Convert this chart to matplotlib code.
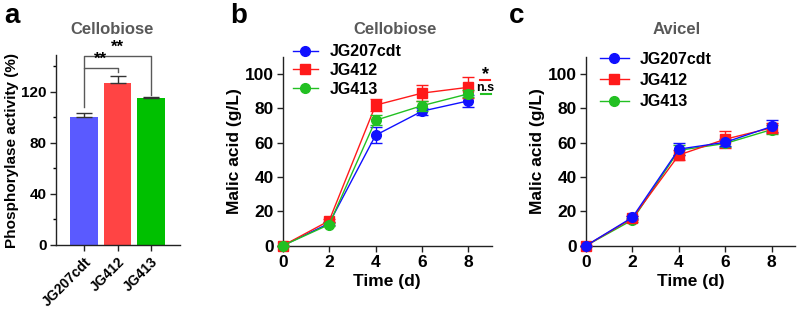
import matplotlib
matplotlib.use("Agg")
import matplotlib.pyplot as plt
from matplotlib.lines import Line2D
import numpy as np

plt.rcParams['font.family'] = ['Liberation Sans', 'DejaVu Sans']
plt.rcParams['font.weight'] = 'bold'

# ---------------- data ----------------
strains = ["JG207cdt", "JG412", "JG413"]
phos_activity = [100, 127.3, 115]
phos_err = [3.5, 5.2, 1.4]

days = [0, 2, 4, 6, 8]
cello_207 = [0, 13, 64.3, 78.3, 84.3]
cello_207_err = [0, 0.8, 4.5, 2.0, 3.5]
cello_412 = [0, 14.5, 81.8, 88.8, 92.2]
cello_412_err = [0, 0.8, 3.6, 4.6, 6.0]
cello_413 = [0, 12.3, 73, 81.5, 88.4]
cello_413_err = [0, 0.8, 3.0, 3.0, 2.0]

avi_207 = [0, 16.5, 56.2, 60.2, 69.4]
avi_207_err = [0, 1.0, 3.5, 2.0, 3.5]
avi_412 = [0, 16.0, 52.8, 62.0, 68.6]
avi_412_err = [0, 1.0, 3.0, 5.0, 3.0]
avi_413 = [0, 15.0, 55.5, 59.5, 67.6]
avi_413_err = [0, 1.0, 3.0, 2.0, 2.5]

W, H = 797, 310
fig = plt.figure(figsize=(W/100, H/100), dpi=100)

def ax_at(l, r, b, t):
    return fig.add_axes([l/W, 1-b/H, (r-l)/W, (b-t)/H])

def ftext(x, y, s, **kw):
    return fig.text(x/W, 1-y/H, s, **kw)

bar_colors = ["#5a5aff", "#ff4444", "#00c000"]
line_colors = ["#1010ff", "#ff1a1a", "#22c022"]
gray = "#595959"

def style(ax, fs):
    for s in ["top", "right"]:
        ax.spines[s].set_visible(False)
    for s in ["left", "bottom"]:
        ax.spines[s].set_linewidth(1.0)
        ax.spines[s].set_color("#222222")
    ax.tick_params(direction="out", length=4, width=1.0, labelsize=fs, color="#222222", pad=2.5)
    for lab in ax.get_xticklabels() + ax.get_yticklabels():
        lab.set_fontweight("bold")

# ---------------- panel a ----------------
axa = ax_at(56, 180, 245, 55)
xa = np.arange(len(strains))
axa.bar(xa, phos_activity, width=0.83, color=bar_colors, zorder=2)
axa.errorbar(xa, phos_activity, yerr=[np.zeros(3), phos_err], fmt="none",
             ecolor="#333333", elinewidth=1.0, capsize=6, capthick=1.0, zorder=3)
axa.set_xlim(-0.85, 2.88)
axa.set_ylim(0, 149)
axa.set_yticks([0, 40, 80, 120])
axa.set_yticks([20, 60, 100, 140], minor=True)
axa.tick_params(axis="y", which="minor", length=2.5, width=1.0)
axa.set_xticks(xa)
axa.set_xticklabels(strains, rotation=45, ha="right", rotation_mode="anchor")
style(axa, 11)
axa.tick_params(axis="x", labelsize=10, pad=3)
axa.set_ylabel("Phosphorylase activity (%)", fontsize=11, fontweight="bold", labelpad=2)
ftext(112, 29, "Cellobiose", color=gray, fontsize=12, fontweight="bold", ha="center", va="center")
# brackets
axa.plot([0, 0, 1, 1], [108, 139, 139, 136], color=gray, lw=1.0, clip_on=False)
axa.plot([0, 0, 2, 2], [139, 148.5, 148.5, 117.5], color=gray, lw=1.0, clip_on=False)
axa.text(0.5, 139.5, "**", ha="center", va="bottom", fontsize=12, fontweight="bold")
axa.text(1.0, 149, "**", ha="center", va="bottom", fontsize=12, fontweight="bold", clip_on=False)
ftext(4, 16, "a", fontsize=20, fontweight="bold", va="center", ha="left")

# ---------------- line panels ----------------
def line_panel(ax, series, errs, markers, zorders):
    for (name, y, e, m, c, z) in zip(strains, series, errs, markers, line_colors, zorders):
        ax.errorbar(days, y, yerr=e, color=c, marker=m, markersize=7, lw=1.0,
                    elinewidth=1.0, capsize=4, capthick=1.0, label=name,
                    clip_on=False, zorder=z)
    ax.set_xlim(0, 9.0)
    ax.set_ylim(0, 110)
    ax.set_xticks([0, 2, 4, 6, 8])
    ax.set_yticks([0, 20, 40, 60, 80, 100])
    style(ax, 12.5)
    ax.set_xlabel("Time (d)", fontsize=12.5, fontweight="bold", labelpad=3)
    ax.set_ylabel("Malic acid (g/L)", fontsize=12.5, fontweight="bold", labelpad=2)

def handles():
    return [Line2D([], [], color=c, marker=m, markersize=7, lw=1.0)
            for c, m in zip(line_colors, markers)]

markers = ["o", "s", "o"]

axb = ax_at(282.7, 491.7, 245.7, 56.7)
line_panel(axb, [cello_207, cello_412, cello_413],
           [cello_207_err, cello_412_err, cello_413_err], markers, [3, 3.1, 3.2])
ftext(395, 29, "Cellobiose", color=gray, fontsize=12, fontweight="bold", ha="center", va="center")
axb.legend(handles(), strains, loc="upper left", bbox_to_anchor=(293/W, 1-44.5/H),
           bbox_transform=fig.transFigure,
           frameon=False, handlelength=1.55, handletextpad=0.75,
           labelspacing=0.22, borderpad=0, borderaxespad=0, prop={"weight": "bold", "size": 11.5})
axb.text(8.72, 99.5, "*", ha="center", va="center", fontsize=13, fontweight="bold", clip_on=False)
axb.plot([8.5, 8.93], [96.5, 96.5], color=line_colors[1], lw=1.5, clip_on=False)
axb.text(8.72, 91.8, "n.s", ha="center", va="center", fontsize=9, fontweight="bold", clip_on=False)
axb.plot([8.55, 8.99], [88.2, 88.2], color=line_colors[2], lw=1.5, clip_on=False)
ftext(230, 16, "b", fontsize=20, fontweight="bold", va="center", ha="left")

axc = ax_at(586, 795, 245.7, 56.7)
line_panel(axc, [avi_207, avi_412, avi_413],
           [avi_207_err, avi_412_err, avi_413_err], markers, [3.2, 3.1, 3.0])
ftext(677, 29, "Avicel", color=gray, fontsize=12, fontweight="bold", ha="center", va="center")
axc.legend(handles(), strains, loc="upper left", bbox_to_anchor=(600/W, 1-52/H),
           bbox_transform=fig.transFigure,
           frameon=False, handlelength=1.8, handletextpad=0.7,
           labelspacing=0.38, borderpad=0, borderaxespad=0, prop={"weight": "bold", "size": 11.5})
ftext(509, 16, "c", fontsize=20, fontweight="bold", va="center", ha="left")

fig.savefig("out.png", dpi=100)
